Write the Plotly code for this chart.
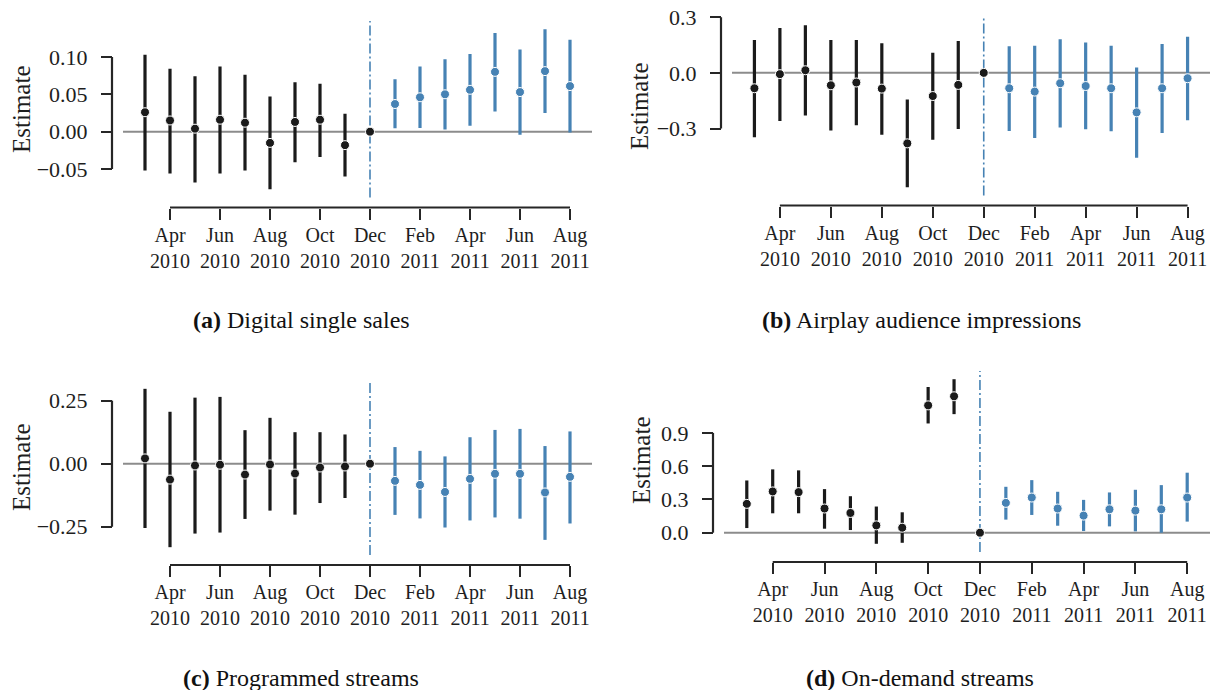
import plotly.graph_objects as go

# ---------------- data ----------------
months = ["Mar 2010", "Apr 2010", "May 2010", "Jun 2010", "Jul 2010", "Aug 2010",
          "Sep 2010", "Oct 2010", "Nov 2010", "Dec 2010", "Jan 2011", "Feb 2011",
          "Mar 2011", "Apr 2011", "May 2011", "Jun 2011", "Jul 2011", "Aug 2011"]
tick_months = ["Apr 2010", "Jun 2010", "Aug 2010", "Oct 2010", "Dec 2010",
               "Feb 2011", "Apr 2011", "Jun 2011", "Aug 2011"]
ref_month = "Dec 2010"

a_est = [0.026, 0.015, 0.004, 0.016, 0.012, -0.015, 0.013, 0.016, -0.018, 0.0,
         0.037, 0.046, 0.050, 0.056, 0.080, 0.053, 0.081, 0.061]
a_lo = [-0.052, -0.056, -0.068, -0.056, -0.052, -0.077, -0.041, -0.034, -0.060, 0.0,
        0.0045, 0.005, 0.003, 0.008, 0.027, -0.004, 0.025, -0.001]
a_hi = [0.103, 0.084, 0.074, 0.087, 0.076, 0.047, 0.066, 0.064, 0.024, 0.0,
        0.070, 0.087, 0.097, 0.104, 0.132, 0.110, 0.137, 0.123]

b_est = [-0.083, -0.007, 0.014, -0.067, -0.052, -0.085, -0.380, -0.125, -0.065, 0.0,
         -0.083, -0.101, -0.056, -0.071, -0.083, -0.213, -0.083, -0.029]
b_lo = [-0.347, -0.259, -0.230, -0.311, -0.282, -0.333, -0.617, -0.360, -0.302, 0.0,
        -0.313, -0.351, -0.295, -0.304, -0.315, -0.457, -0.324, -0.255]
b_hi = [0.177, 0.242, 0.257, 0.177, 0.177, 0.159, -0.143, 0.108, 0.172, 0.0,
        0.143, 0.146, 0.181, 0.163, 0.146, 0.029, 0.156, 0.195]

c_est = [0.021, -0.063, -0.007, -0.004, -0.043, -0.003, -0.039, -0.015, -0.011, 0.0,
         -0.068, -0.084, -0.112, -0.060, -0.040, -0.040, -0.114, -0.052]
c_lo = [-0.255, -0.331, -0.277, -0.273, -0.219, -0.186, -0.202, -0.156, -0.136, 0.0,
        -0.203, -0.217, -0.253, -0.225, -0.213, -0.218, -0.302, -0.237]
c_hi = [0.297, 0.206, 0.262, 0.265, 0.133, 0.182, 0.125, 0.125, 0.116, 0.0,
        0.066, 0.051, 0.029, 0.105, 0.134, 0.138, 0.070, 0.128]

d_est = [0.260, 0.372, 0.366, 0.218, 0.178, 0.066, 0.045, 1.148, 1.230, 0.0,
         0.269, 0.317, 0.218, 0.154, 0.211, 0.199, 0.211, 0.317]
d_lo = [0.042, 0.175, 0.175, 0.036, 0.024, -0.100, -0.091, 0.985, 1.069, 0.0,
        0.118, 0.160, 0.063, 0.015, 0.057, 0.012, 0.000, 0.100]
d_hi = [0.471, 0.571, 0.562, 0.393, 0.329, 0.236, 0.184, 1.314, 1.384, 0.0,
        0.414, 0.474, 0.369, 0.296, 0.363, 0.387, 0.429, 0.541]

a_yticks = [-0.05, 0.0, 0.05, 0.10]
a_yticktext = ["\u22120.05", "0.00", "0.05", "0.10"]
b_yticks = [-0.3, 0.0, 0.3]
b_yticktext = ["\u22120.3", "0.0", "0.3"]
c_yticks = [-0.25, 0.0, 0.25]
c_yticktext = ["\u22120.25", "0.00", "0.25"]
d_yticks = [0.0, 0.3, 0.6, 0.9]
d_yticktext = ["0.0", "0.3", "0.6", "0.9"]

captions = ["Digital single sales", "Airplay audience impressions",
            "Programmed streams", "On-demand streams"]
letters = ["(a)", "(b)", "(c)", "(d)"]

# ---------------- styling / layout ----------------
W, H = 1210, 690
FONT = "Liberation Serif"
TXT = "#1e1e1e"
SPINE = "#262626"
BLACK = "#1a1a1a"
BLUE = "#4682b4"
GRAY = "#8c8c8c"

# per panel: plot left, right, top, bottom (px); y range
panels = [
    dict(est=a_est, lo=a_lo, hi=a_hi, yt=a_yticks, ytt=a_yticktext,
         box=(123, 592, 21, 197.5), yr=[-0.088, 0.148], cap=(301, 320), lab=(21, 110)),
    dict(est=b_est, lo=b_lo, hi=b_hi, yt=b_yticks, ytt=b_yticktext,
         box=(732, 1211, 17, 195.5), yr=[-0.661, 0.301], cap=(921, 320), lab=(639, 107)),
    dict(est=c_est, lo=c_lo, hi=c_hi, yt=c_yticks, ytt=c_yticktext,
         box=(123, 592, 381, 555), yr=[-0.362, 0.328], cap=(301, 678), lab=(21, 468)),
    dict(est=d_est, lo=d_lo, hi=d_hi, yt=d_yticks, ytt=d_yticktext,
         box=(724, 1211, 371, 552), yr=[-0.174, 1.458], cap=(920, 678), lab=(641, 461)),
]

def px_x(v):
    return v / W

def px_y(v):
    return 1 - v / H

fig = go.Figure()
xidx = list(range(len(months)))
ref_i = months.index(ref_month)
tickvals = [months.index(m) for m in tick_months]
ticktext = [m.replace(" ", "<br>") for m in tick_months]
xr = [-0.88, len(months) - 1 + 0.88]

shapes = []
annotations = []
for k, p in enumerate(panels):
    sfx = "" if k == 0 else str(k + 1)
    xa, ya = "x" + sfx, "y" + sfx
    L, R, T, B = p["box"]

    pre = [i for i in xidx if i < ref_i]
    post = [i for i in xidx if i > ref_i]
    for idxs, col in ((pre, BLACK), (post, BLUE)):
        fig.add_trace(go.Scatter(
            x=idxs, y=[p["est"][i] for i in idxs], mode="markers",
            marker=dict(color=col, size=9, line=dict(color="white", width=1)),
            error_y=dict(type="data", symmetric=False,
                         array=[p["hi"][i] - p["est"][i] for i in idxs],
                         arrayminus=[p["est"][i] - p["lo"][i] for i in idxs],
                         color=col, thickness=3.2, width=0),
            xaxis=xa, yaxis=ya, showlegend=False, hoverinfo="skip"))
    fig.add_trace(go.Scatter(
        x=[ref_i], y=[p["est"][ref_i]], mode="markers",
        marker=dict(color=BLACK, size=9, line=dict(color="white", width=1)),
        xaxis=xa, yaxis=ya, showlegend=False, hoverinfo="skip"))

    spine_x = px_x(L - 11)
    spine_y = px_y(B + 10)
    fig.layout["xaxis" + sfx] = dict(
        domain=[px_x(L), min(px_x(R), 1.0)], range=xr, anchor="free", position=spine_y,
        tickmode="array", tickvals=tickvals, ticktext=ticktext,
        ticks="outside", ticklen=11, tickwidth=2, tickcolor=SPINE,
        showline=False, showgrid=False, zeroline=False,
        tickfont=dict(family=FONT, size=20, color=TXT), ticklabelstandoff=-2)
    fig.layout["yaxis" + sfx] = dict(
        domain=[px_y(B), px_y(T)], range=p["yr"], anchor="free", position=spine_x,
        tickmode="array", tickvals=p["yt"], ticktext=p["ytt"],
        ticks="outside", ticklen=11, tickwidth=2, tickcolor=SPINE,
        showline=False, showgrid=False, zeroline=False,
        tickfont=dict(family=FONT, size=22, color=TXT), ticklabelstandoff=9)

    # zero reference line
    shapes.append(dict(type="line", xref=xa + " domain", x0=0, x1=1, yref=ya, y0=0, y1=0,
                       line=dict(color=GRAY, width=2), layer="below"))
    # treatment month
    shapes.append(dict(type="line", xref=xa, x0=ref_i, x1=ref_i, yref=ya + " domain", y0=0, y1=1,
                       line=dict(color=BLUE, width=1.6, dash="10px,3px,2px,3px"), layer="below"))
    # trimmed spines
    shapes.append(dict(type="line", xref="paper", x0=spine_x, x1=spine_x, yref=ya,
                       y0=min(p["yt"]), y1=max(p["yt"]), line=dict(color=SPINE, width=2.2)))
    shapes.append(dict(type="line", xref=xa, x0=min(tickvals), x1=max(tickvals), yref="paper",
                       y0=spine_y, y1=spine_y, line=dict(color=SPINE, width=2.2)))

    lx, ly = p["lab"]
    annotations.append(dict(text="Estimate", xref="paper", yref="paper", x=px_x(lx), y=px_y(ly),
                            textangle=-90, showarrow=False, xanchor="center", yanchor="middle",
                            font=dict(family=FONT, size=25, color=TXT)))
    cx, cy = p["cap"]
    annotations.append(dict(text="<b>" + letters[k] + "</b> " + captions[k], xref="paper", yref="paper",
                            x=px_x(cx), y=px_y(cy), showarrow=False, xanchor="center", yanchor="middle",
                            font=dict(family=FONT, size=24, color="#111111")))

fig.update_layout(
    width=W, height=H, margin=dict(l=0, r=0, t=0, b=0, autoexpand=False),
    paper_bgcolor="white", plot_bgcolor="white",
    shapes=shapes, annotations=annotations, showlegend=False)

fig.write_html("out.html", config={"displayModeBar": False},
               post_script="document.body.style.margin='0';document.body.style.overflow='hidden';")
